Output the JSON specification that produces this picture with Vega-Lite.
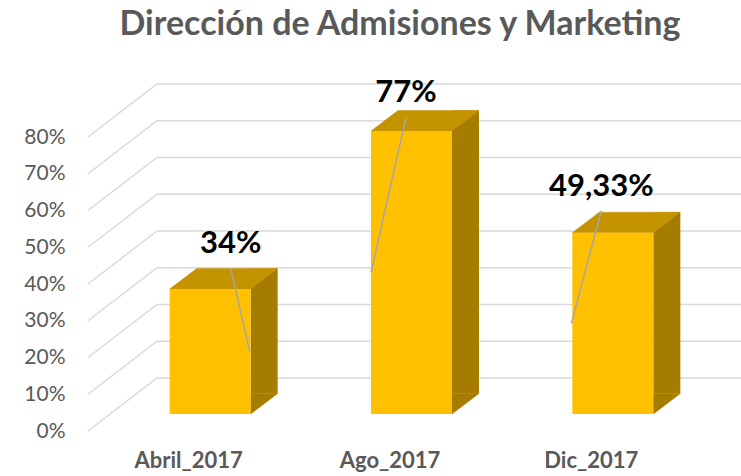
{
  "$schema": "https://vega.github.io/schema/vega-lite/v6.json",
  "width": 604,
  "height": 294,
  "autosize": {"type": "none"},
  "padding": {"left": 88, "top": 137, "right": 49, "bottom": 45},
  "background": "white",
  "title": {
    "text": "Dirección de Admisiones y Marketing",
    "font": "Lato",
    "fontSize": 34,
    "fontWeight": "bold",
    "color": "#595959",
    "anchor": "middle",
    "frame": "group",
    "baseline": "alphabetic",
    "offset": 8,
    "dx": 10
  },
  "config": {"view": {"stroke": null}, "axisY": {"labelOverlap": false}},
  "datasets": {
    "admisiones": [
      {"mes": "Abril_2017", "valor": 0.34, "etiqueta": "34%"},
      {"mes": "Ago_2017", "valor": 0.77, "etiqueta": "77%"},
      {"mes": "Dic_2017", "valor": 0.4933, "etiqueta": "49,33%"}
    ],
    "rejilla": [
      {"nivel": 0}, {"nivel": 0.1}, {"nivel": 0.2}, {"nivel": 0.3}, {"nivel": 0.4},
      {"nivel": 0.5}, {"nivel": 0.6}, {"nivel": 0.7}, {"nivel": 0.8}
    ]
  },
  "layer": [
    {
      "data": {"name": "rejilla"},
      "mark": {"type": "point", "shape": "M0,0L0.69,-0.53L6.53,-0.53", "size": 40000, "filled": false, "stroke": "#D9D9D9", "strokeWidth": 1.4, "opacity": 1},
      "encoding": {
        "x": {"value": 0},
        "y": {
          "field": "nivel", "type": "quantitative",
          "scale": {"domain": [0, 0.8], "nice": false, "zero": true},
          "axis": {"values": [0, 0.1, 0.2, 0.3, 0.4, 0.5, 0.6, 0.7, 0.8], "tickCount": 9, "format": ".0%", "labelOverlap": false, "domain": false, "ticks": false, "tickSize": 0, "grid": false, "labelPadding": 23, "labelFont": "Lato", "labelFontSize": 21, "labelColor": "#595959", "title": null}
        }
      }
    },
    {
      "data": {"name": "admisiones"},
      "mark": {"type": "bar", "width": 27, "xOffset": 75.5, "yOffset": -37.5, "y2Offset": -37.5, "color": "#A67C00"},
      "encoding": {
        "x": {
          "field": "mes", "type": "nominal",
          "scale": {"paddingInner": 0, "paddingOuter": 0},
          "axis": {"domain": false, "ticks": false, "tickSize": 0, "grid": false, "labelPadding": 36, "labelBaseline": "alphabetic", "labelFont": "Lato", "labelFontSize": 22, "labelFontWeight": "bold", "labelColor": "#595959", "labelAngle": 0, "title": null}
        },
        "y": {"field": "valor", "type": "quantitative"}
      }
    },
    {
      "data": {"name": "admisiones"},
      "mark": {"type": "point", "shape": "M0.62,-0.17L0.62,-0.375L0.89,-0.375Z", "size": 40000, "filled": true, "color": "#A67C00", "stroke": "#A67C00", "strokeWidth": 0.5, "opacity": 1},
      "encoding": {
        "x": {"field": "mes", "type": "nominal"},
        "y": {"datum": 0, "type": "quantitative"}
      }
    },
    {
      "data": {"name": "admisiones"},
      "mark": {"type": "point", "shape": "M-0.19,-0.17L0.62,-0.17L0.89,-0.375L0.08,-0.375Z", "size": 40000, "filled": true, "color": "#C49300", "stroke": "#C49300", "strokeWidth": 0.5, "opacity": 1},
      "encoding": {
        "x": {"field": "mes", "type": "nominal"},
        "y": {"field": "valor", "type": "quantitative"}
      }
    },
    {
      "data": {"name": "admisiones"},
      "mark": {"type": "bar", "width": 81, "xOffset": 21.5, "yOffset": -17, "y2Offset": -17, "color": "#FFC000"},
      "encoding": {
        "x": {"field": "mes", "type": "nominal"},
        "y": {"field": "valor", "type": "quantitative"}
      }
    },
    {
      "data": {"name": "admisiones"},
      "transform": [{"filter": "datum.mes === 'Abril_2017'"}, {"calculate": "datum.valor / 2", "as": "mitad"}],
      "mark": {"type": "rule", "color": "#A6A6A6", "strokeWidth": 1.5, "xOffset": 42, "x2Offset": 61, "yOffset": -38, "y2Offset": -17},
      "encoding": {
        "x": {"field": "mes", "type": "nominal"},
        "x2": {"field": "mes"},
        "y": {"field": "valor", "type": "quantitative"},
        "y2": {"field": "mitad"}
      }
    },
    {
      "data": {"name": "admisiones"},
      "transform": [{"filter": "datum.mes === 'Ago_2017'"}, {"calculate": "datum.valor / 2", "as": "mitad"}],
      "mark": {"type": "rule", "color": "#A6A6A6", "strokeWidth": 1.5, "xOffset": 16, "x2Offset": -19, "yOffset": -30.5, "y2Offset": -17},
      "encoding": {
        "x": {"field": "mes", "type": "nominal"},
        "x2": {"field": "mes"},
        "y": {"field": "valor", "type": "quantitative"},
        "y2": {"field": "mitad"}
      }
    },
    {
      "data": {"name": "admisiones"},
      "transform": [{"filter": "datum.mes === 'Dic_2017'"}, {"calculate": "datum.valor / 2", "as": "mitad"}],
      "mark": {"type": "rule", "color": "#A6A6A6", "strokeWidth": 1.5, "xOffset": 10, "x2Offset": -20, "yOffset": -39, "y2Offset": -17},
      "encoding": {
        "x": {"field": "mes", "type": "nominal"},
        "x2": {"field": "mes"},
        "y": {"field": "valor", "type": "quantitative"},
        "y2": {"field": "mitad"}
      }
    },
    {
      "data": {"name": "admisiones"},
      "transform": [{"filter": "datum.mes === 'Abril_2017'"}],
      "mark": {"type": "text", "font": "Lato", "fontSize": 31, "fontWeight": "bold", "color": "#000000", "baseline": "alphabetic", "align": "center", "dx": 42, "dy": -53},
      "encoding": {
        "x": {"field": "mes", "type": "nominal"},
        "y": {"field": "valor", "type": "quantitative"},
        "text": {"field": "etiqueta"}
      }
    },
    {
      "data": {"name": "admisiones"},
      "transform": [{"filter": "datum.mes === 'Ago_2017'"}],
      "mark": {"type": "text", "font": "Lato", "fontSize": 31, "fontWeight": "bold", "color": "#000000", "baseline": "alphabetic", "align": "center", "dx": 16, "dy": -46},
      "encoding": {
        "x": {"field": "mes", "type": "nominal"},
        "y": {"field": "valor", "type": "quantitative"},
        "text": {"field": "etiqueta"}
      }
    },
    {
      "data": {"name": "admisiones"},
      "transform": [{"filter": "datum.mes === 'Dic_2017'"}],
      "mark": {"type": "text", "font": "Lato", "fontSize": 31, "fontWeight": "bold", "color": "#000000", "baseline": "alphabetic", "align": "center", "dx": 10, "dy": -54},
      "encoding": {
        "x": {"field": "mes", "type": "nominal"},
        "y": {"field": "valor", "type": "quantitative"},
        "text": {"field": "etiqueta"}
      }
    }
  ]
}
